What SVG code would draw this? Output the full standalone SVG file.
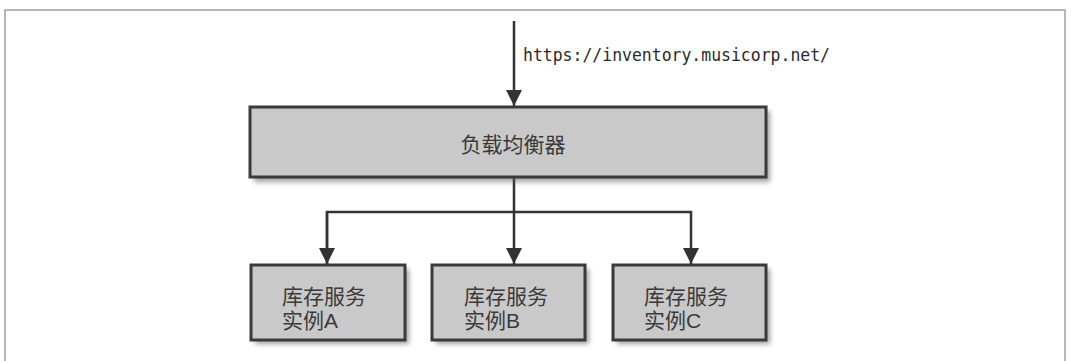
<svg xmlns="http://www.w3.org/2000/svg" width="1071" height="361" viewBox="0 0 1071 361">
<style>
.box{fill:#c9c9c9;stroke:#3a3a3a;stroke-width:3}
.shadow{fill:#555;opacity:0.55;filter:url(#blur)}
.line{fill:none;stroke:#333;stroke-width:2.5}
.cn{font-family:"Liberation Sans","Noto Sans CJK SC",sans-serif;font-size:21px;fill:#3a3a3a}
.url{font-family:"DejaVu Sans Mono","Liberation Mono",monospace;font-size:18px;fill:#2a2a2a}
.frame{fill:none;stroke:#a0a0a0;stroke-width:1.5}
</style>
<defs>
<filter id="blur" x="-10%" y="-20%" width="120%" height="140%"><feGaussianBlur stdDeviation="2.5"/></filter>
<marker id="arr" viewBox="0 0 16 16" refX="16" refY="8" markerWidth="16" markerHeight="16" markerUnits="userSpaceOnUse" orient="auto"><path d="M0,0 L16,8 L0,16 Z" fill="#333"/></marker>
</defs>
<rect width="1071" height="361" fill="#fff"/>
<path class="frame" d="M5,361 V10 H1065 V361"/>
<g id="connectors">
<line class="line" x1="514" y1="21" x2="514" y2="106" marker-end="url(#arr)"/>
<path class="line" d="M514,178 V264" marker-end="url(#arr)"/>
<path class="line" d="M327,264 V212 H691 V264" marker-end="url(#arr)"/>
<path class="line" d="M327,212 V264" marker-end="url(#arr)"/>
</g>
<text class="url" x="523" y="61" textLength="307" lengthAdjust="spacingAndGlyphs">https://inventory.musicorp.net/</text>
<g id="lb">
<rect class="shadow" x="254" y="111" width="516" height="71"/>
<rect class="box" x="250" y="107" width="516" height="70"/>
<text class="cn" x="513" y="152" text-anchor="middle">负载均衡器</text>
</g>
<g id="instA">
<rect class="shadow" x="255" y="269" width="154" height="75"/>
<rect class="box" x="251" y="265" width="154" height="75"/>
<text class="cn" x="282" y="304">库存服务</text>
<text class="cn" x="282" y="328">实例A</text>
</g>
<g id="instB">
<rect class="shadow" x="436" y="269" width="153" height="75"/>
<rect class="box" x="432" y="265" width="153" height="75"/>
<text class="cn" x="464" y="304">库存服务</text>
<text class="cn" x="464" y="328">实例B</text>
</g>
<g id="instC">
<rect class="shadow" x="617" y="269" width="153" height="75"/>
<rect class="box" x="613" y="265" width="153" height="75"/>
<text class="cn" x="644" y="304">库存服务</text>
<text class="cn" x="644" y="328">实例C</text>
</g>
</svg>
